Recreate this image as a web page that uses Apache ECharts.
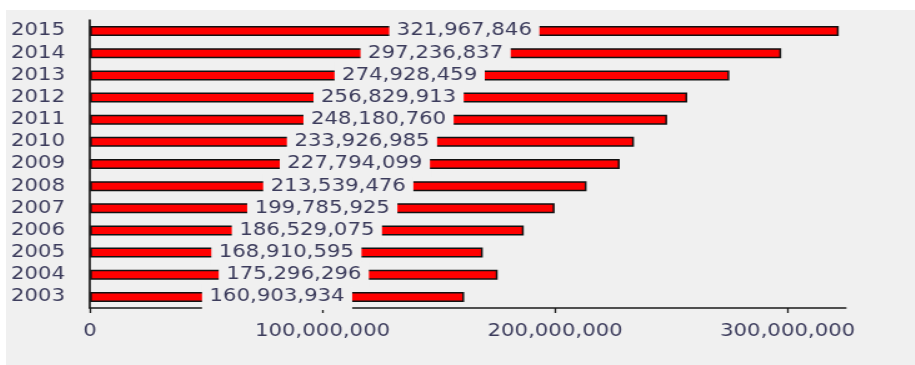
<!DOCTYPE html>
<html>
<head>
<meta charset="utf-8">
<script src="https://cdn.jsdelivr.net/npm/echarts@6/dist/echarts.min.js"></script>
<style>
  html, body { margin: 0; padding: 0; background: #ffffff; width: 915px; height: 365px; overflow: hidden; }
  #panel { position: absolute; left: 6px; top: 10px; width: 909px; height: 355px; background: #f0f0f0; }
  /* the chart is laid out narrow and widened, giving the broad lettering of the original sheet */
  #chart { position: absolute; left: 0; top: 0; width: 727.2px; height: 355px; transform: scaleX(1.25); transform-origin: 0 0; }
</style>
</head>
<body>
<div id="panel"><div id="chart"></div></div>
<script>
// Years, bottom row first
const years = ['2003', '2004', '2005', '2006', '2007', '2008', '2009', '2010', '2011', '2012', '2013', '2014', '2015'];
// Yearly totals
const totals = [160903934, 175296296, 168910595, 186529075, 199785925, 213539476, 227794099,
                233926985, 248180760, 256829913, 274928459, 297236837, 321967846];
// Labelled positions on the value axis
const valueTicks = [0, 100000000, 200000000, 300000000];
const valueMax = 325000000;

function withCommas(n) {
  return String(Math.round(n)).replace(/\B(?=(\d{3})+(?!\d))/g, ',');
}

const textColor = '#3c3c5c';
const font = '"DejaVu Sans", Verdana, sans-serif';

const chart = echarts.init(document.getElementById('chart'), null, { renderer: 'canvas' });
chart.setOption({
  animation: false,
  backgroundColor: 'transparent',
  grid: { left: 67.2, right: 55.2, top: 10, bottom: 57, containLabel: false },
  xAxis: {
    type: 'value',
    min: 0,
    max: valueMax,
    interval: 100000000,
    splitLine: { show: false },
    axisLine: { show: true, lineStyle: { color: '#1a1a1a', width: 1.6 } },
    axisTick: { show: true, length: 5, customValues: valueTicks, lineStyle: { color: '#1a1a1a', width: 1.3 } },
    axisLabel: {
      customValues: valueTicks,
      formatter: v => withCommas(v),
      color: textColor, fontFamily: font, fontSize: 17, margin: 15
    }
  },
  yAxis: {
    type: 'category',
    data: years,
    axisLine: { show: true, onZero: false, lineStyle: { color: '#1a1a1a', width: 1.7 } },
    axisTick: { show: false },
    splitLine: { show: false },
    axisLabel: { color: textColor, fontFamily: font, fontSize: 17, margin: 20 }
  },
  series: [{
    type: 'bar',
    data: totals,
    barWidth: 10,
    itemStyle: { color: '#ff0000', borderColor: '#111111', borderWidth: 1.5 },
    label: {
      show: true,
      position: 'inside',
      formatter: p => withCommas(p.value),
      color: textColor,
      fontFamily: font,
      fontSize: 17,
      lineHeight: 18,
      backgroundColor: '#f0f0f0',
      padding: [4, 6]
    }
  }]
});
</script>
</body>
</html>
